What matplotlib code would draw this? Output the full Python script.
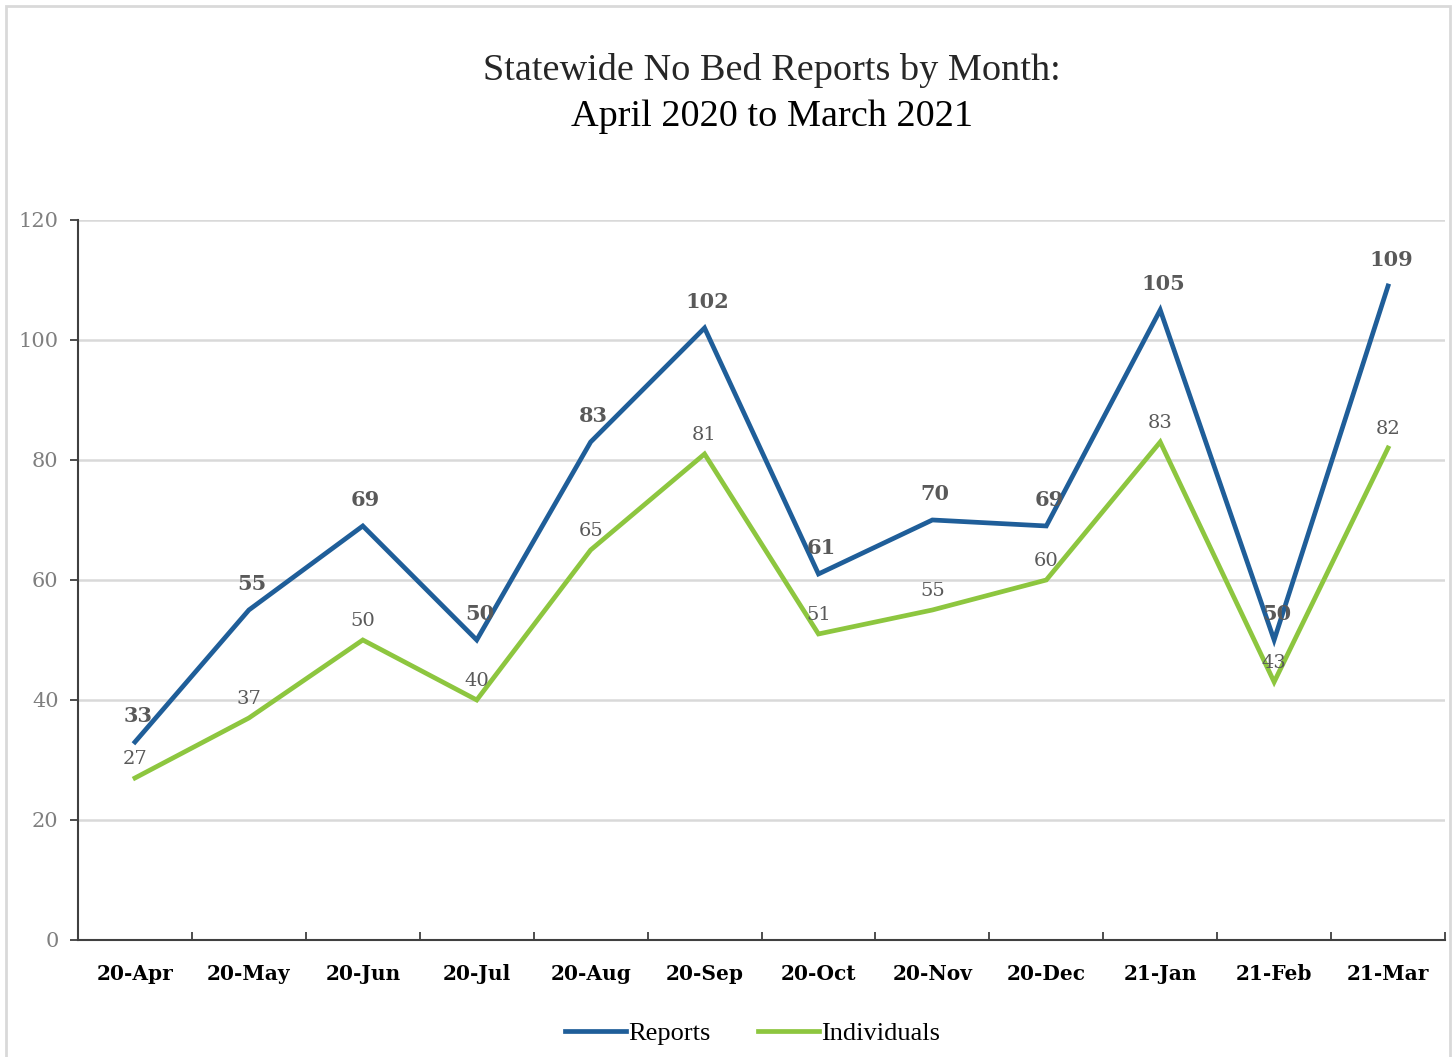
import matplotlib.pyplot as plt
import matplotlib.patches as patches
import numpy as np

# Data
months = ["20-Apr", "20-May", "20-Jun", "20-Jul", "20-Aug", "20-Sep",
          "20-Oct", "20-Nov", "20-Dec", "21-Jan", "21-Feb", "21-Mar"]
reports = [33, 55, 69, 50, 83, 102, 61, 70, 69, 105, 50, 109]
individuals = [27, 37, 50, 40, 65, 81, 51, 55, 60, 83, 43, 82]
y_ticks = [0, 20, 40, 60, 80, 100, 120]

blue = "#1F5E99"
green = "#8DC63F"
label_gray = "#595959"
grid_gray = "#D9D9D9"

plt.rcParams["font.family"] = ["Liberation Serif", "DejaVu Serif"]

fig = plt.figure(figsize=(14.53, 10.57), dpi=100)
ax = fig.add_axes([0.0537, 0.1107, 0.9408, 0.6812])

x = np.arange(len(months))
ax.plot(x, reports, color=blue, lw=3.4, solid_joinstyle="miter", label="Reports", zorder=3)
ax.plot(x, individuals, color=green, lw=3.4, solid_joinstyle="miter", label="Individuals", zorder=3)

# data labels
for xi, v in zip(x, reports):
    ax.annotate(str(v), (xi, v), xytext=(2, 19), textcoords="offset points",
                ha="center", va="center", fontsize=15, fontweight="bold",
                color=label_gray, family=["DejaVu Serif"], zorder=4)
for xi, v in zip(x, individuals):
    ax.annotate(str(v), (xi, v), xytext=(0, 14), textcoords="offset points",
                ha="center", va="center", fontsize=14,
                color=label_gray, family=["DejaVu Serif"], zorder=4)

ax.set_xlim(-0.5, len(months) - 0.5)
ax.set_ylim(0, 120)
ax.set_yticks(y_ticks)
ax.set_yticklabels([str(t) for t in y_ticks], fontsize=15, color="#7F7F7F",
                   family=["DejaVu Serif"])
ax.set_xticks(x)
ax.set_xticklabels(months, fontsize=14.5, fontweight="bold", color="black",
                   family=["DejaVu Serif"])
ax.tick_params(axis="x", length=0, pad=17)
ax.set_xticks(np.arange(-0.5, len(months)), minor=True)
ax.tick_params(axis="x", which="minor", direction="in", length=6, width=1.3, color="#404040")
ax.tick_params(axis="y", direction="out", length=6, width=1.3, color="#404040", pad=8)

ax.grid(axis="y", color=grid_gray, lw=1.8)
ax.set_axisbelow(True)
for s in ["top", "right"]:
    ax.spines[s].set_visible(False)
for s in ["left", "bottom"]:
    ax.spines[s].set_color("#404040")
    ax.spines[s].set_linewidth(1.5)

# title
fig.text(0.531, 0.933, "Statewide No Bed Reports by Month:", ha="center", va="center",
         fontsize=27.5, color="#262626")
fig.text(0.531, 0.890, "April 2020 to March 2021", ha="center", va="center",
         fontsize=27.5, color="black")

ax.legend(loc="center", bbox_to_anchor=(0.518, 0.0225), bbox_transform=fig.transFigure,
          ncol=2, frameon=False, fontsize=19, handlelength=2.3, handletextpad=0.1,
          columnspacing=1.8)

# outer chart border
fig.patches.append(patches.Rectangle((0.004, -0.01), 0.994, 1.004, transform=fig.transFigure,
                                     fill=False, edgecolor=grid_gray, lw=2))

fig.savefig("out.png", dpi=100)
